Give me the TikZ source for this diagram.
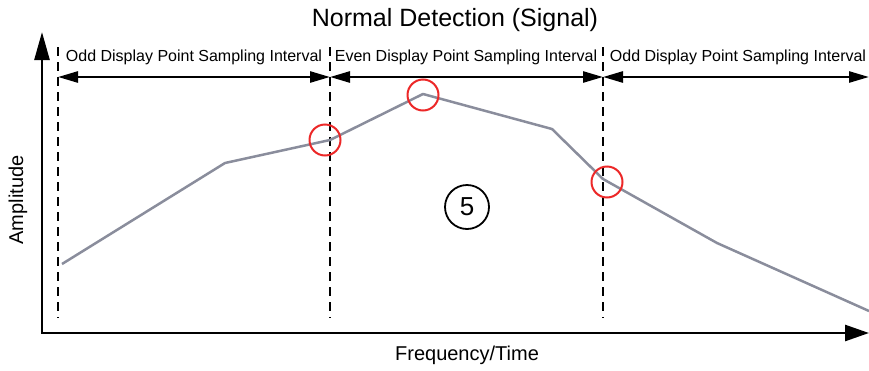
\documentclass[tikz,border=0pt]{standalone}
\usepackage{fontspec}
\setmainfont{Liberation Sans}
\usetikzlibrary{arrows.meta}
\definecolor{curvegray}{RGB}{138,141,156}
\definecolor{markred}{RGB}{236,40,40}
\begin{document}
\begin{tikzpicture}[x=1pt,y=-1pt,
  axis/.style={line width=2.6pt, line join=miter},
  interval/.style={line width=2.6pt, {Triangle[length=20pt,width=11pt]}-{Triangle[length=20pt,width=11pt]}},
  divider/.style={line width=2.4pt, dash pattern=on 9pt off 6pt},
  signal/.style={curvegray, line width=2.5pt, line join=round},
  marker/.style={circle, draw=markred, line width=2pt, minimum size=31pt, inner sep=0pt},
  lab/.style={font=\fontsize{16}{18}\selectfont, inner sep=0pt}]
\useasboundingbox (0,0) rectangle (869,370);

% title and axis labels
\node[font=\fontsize{25}{28}\selectfont] (title) at (455,20) {Normal Detection (Signal)};
\node[font=\fontsize{20}{22}\selectfont, rotate=90] (ylab) at (18,200) {Amplitude};
\node[font=\fontsize{20}{22}\selectfont] (xlab) at (467,355) {Frequency/Time};

% axes
\coordinate (ytip) at (42,32);
\coordinate (xtip) at (869,333);
\draw[axis, {Triangle[length=28pt,width=15pt]}-{Triangle[length=24pt,width=16pt]}] (ytip) |- (xtip);

% dividers
\coordinate (d1t) at (58,47);  \coordinate (d1b) at (58,318);
\coordinate (d2t) at (330,47); \coordinate (d2b) at (330,318);
\coordinate (d3t) at (603,47); \coordinate (d3b) at (603,318);
\coordinate (a1) at (58,77);
\coordinate (a2) at (330,77);
\coordinate (a3) at (603,77);
\coordinate (a4) at (869,77);
\draw[divider] (d1t) -- (d1b);
\draw[divider] (d2t) -- (d2b);
\draw[divider] (d3t) -- (d3b);

% interval arrows
\draw[interval] (a1) -- (a2);
\draw[interval] (a2) -- (a3);
\draw[interval] (a3) -- (a4);

% interval labels
\node[lab] (l1) at (194,57) {Odd Display Point Sampling Interval};
\node[lab] (l2) at (466,57) {Even Display Point Sampling Interval};
\node[lab] (l3) at (738,57) {Odd Display Point Sampling Interval};

% signal
\coordinate (p1) at (62,264);
\coordinate (p2) at (225,163);
\coordinate (p3) at (330,140);
\coordinate (p4) at (423,94);
\coordinate (p5) at (552,129);
\coordinate (p6) at (603,179);
\coordinate (p7) at (717,243);
\coordinate (p8) at (869,311);
\draw[signal] (p1) -- (p2) -- (p3) -- (p4) -- (p5) -- (p6) -- (p7) -- (p8);

% sample markers
\node[marker] (m1) at (325,140) {};
\node[marker] (m2) at (423,95) {};
\node[marker] (m3) at (607,182) {};

% circled number
\node[circle, draw, line width=1.8pt, minimum size=44pt, inner sep=0pt,
      font=\fontsize{26}{28}\selectfont] (num) at (467,207) {5};
\end{tikzpicture}
\end{document}
